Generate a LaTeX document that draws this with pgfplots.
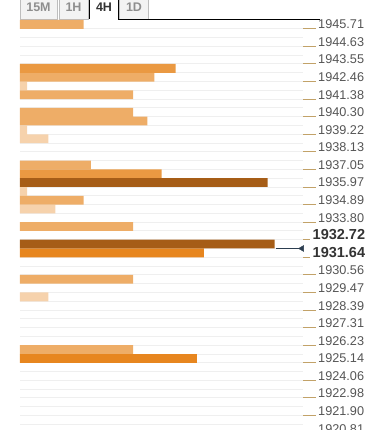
\documentclass[border=0pt]{standalone}
\usepackage{fontspec}
\setmainfont{Liberation Sans}
\usepackage{pgfplots}
\pgfplotsset{compat=1.18}
\definecolor{vlight}{HTML}{F6D2AC}
\definecolor{light}{HTML}{EEAD67}
\definecolor{medium}{HTML}{EA9942}
\definecolor{orange}{HTML}{E7861F}
\definecolor{brown}{HTML}{A65D17}
\definecolor{gridc}{HTML}{EFEFEF}
\definecolor{tickgold}{HTML}{C2A268}
\definecolor{labgrey}{HTML}{555555}
\definecolor{labdark}{HTML}{333333}
\definecolor{pricecol}{HTML}{2C3E50}
\definecolor{tabfill}{HTML}{F3F3F3}
\definecolor{tabline}{HTML}{BDBDBD}
\definecolor{tabtext}{HTML}{8E8E8E}
\begin{document}
\begin{tikzpicture}[x=1pt,y=1pt]
\useasboundingbox (0,0) rectangle (387,430);
\begin{scope}
\clip (0,0) rectangle (387,430);
% tabs
\draw[tabline, fill=tabfill] (20,411) rectangle (57,440);
\draw[tabline, fill=tabfill] (59,411) rectangle (88,440);
\draw[tabline, fill=tabfill] (119.5,411) rectangle (148,440);
\fill[white] (89.5,410.5) rectangle (118,440);
\draw[black, line width=0.9pt] (89.5,440) -- (89.5,411) ;
\draw[black, line width=0.9pt] (118,440) -- (118,411) -- (320,411);
\node[anchor=base, inner sep=0pt, text=tabtext, font=\bfseries\fontsize{12.5}{14}\selectfont] at (38.5,418.5) {15M};
\node[anchor=base, inner sep=0pt, text=tabtext, font=\bfseries\fontsize{12.5}{14}\selectfont] at (73.5,418.5) {1H};
\node[anchor=base, inner sep=0pt, text=labdark, font=\bfseries\fontsize{12.5}{14}\selectfont] at (104,418.5) {4H};
\node[anchor=base, inner sep=0pt, text=tabtext, font=\bfseries\fontsize{12.5}{14}\selectfont] at (134,418.5) {1D};
\begin{axis}[
  at={(20pt,410pt)}, anchor=north west,
  scale only axis, width=283pt, height=421.92pt,
  xmin=0, xmax=40, ymin=1920.2676, ymax=1946.25,
  clip=false,
  axis line style={draw=none},
  xtick=\empty,
  ytick pos=right, yticklabel pos=right,
  tick align=outside,
  major tick length=13pt,
  minor tick length=0pt,
  major tick style={draw=tickgold, line width=0.8pt},
  ytick={1945.71,1944.63,1943.55,1942.46,1941.38,1940.30,1939.22,1938.13,1937.05,1935.97,1934.89,1933.80,1930.56,1929.47,1928.39,1927.31,1926.23,1925.14,1924.06,1922.98,1921.90,1920.81},
  yticklabels={1945.71,1944.63,1943.55,1942.46,1941.38,1940.30,1939.22,1938.13,1937.05,1935.97,1934.89,1933.80,1930.56,1929.47,1928.39,1927.31,1926.23,1925.14,1924.06,1922.98,1921.90,1920.81},
  yticklabel style={font=\fontsize{12.7}{14}\selectfont, text=labgrey, anchor=base west, inner sep=0pt, xshift=2pt},
  extra y ticks={1932.72,1931.64},
  extra y tick labels={1932.72,1931.64},
  extra y tick style={major tick length=7pt, yticklabel style={font=\bfseries\fontsize{14.5}{16}\selectfont, text=labdark, xshift=0.5pt}},
  minor ytick={1945.7087,1945.1674,1944.6261,1944.0848,1943.5435,1943.0022,1942.4609,1941.9196,1941.3783,1940.8370,1940.2957,1939.7544,1939.2131,1938.6718,1938.1305,1937.5892,1937.0479,1936.5066,1935.9653,1935.4240,1934.8827,1934.3414,1933.8001,1933.2588,1932.7175,1932.1762,1931.6349,1931.0936,1930.5523,1930.0110,1929.4697,1928.9284,1928.3871,1927.8458,1927.3045,1926.7632,1926.2219,1925.6806,1925.1393,1924.5980,1924.0567,1923.5154,1922.9741,1922.4328,1921.8915,1921.3502,1920.8089},
  yminorgrids,
  minor grid style={draw=gridc, line width=1pt},
]
\addplot[xbar, fill=vlight, draw=none, bar width=0.5413, bar shift=0pt] coordinates {
  (1,1942.19) (1,1939.48) (4,1938.94) (1,1935.69) (5,1934.61) (4,1929.20)};
\addplot[xbar, fill=light, draw=none, bar width=0.5413, bar shift=0pt] coordinates {
  (9,1945.98) (19,1942.73) (16,1941.65) (16,1940.57) (18,1940.03) (10,1937.32) (9,1935.15) (16,1933.53) (16,1930.28) (16,1925.95)};
\addplot[xbar, fill=medium, draw=none, bar width=0.5413, bar shift=0pt] coordinates {
  (22,1943.27) (20,1936.78)};
\addplot[xbar, fill=orange, draw=none, bar width=0.5413, bar shift=0pt] coordinates {
  (26,1931.91) (25,1925.41)};
\addplot[xbar, fill=brown, draw=none, bar width=0.5413, bar shift=0pt] coordinates {
  (35,1936.24) (36,1932.45)};
\addplot[draw=pricecol, line width=1.2pt] coordinates {(36.2,1932.18) (39.7,1932.18)};
\addplot[only marks, mark=triangle*, mark size=3.4pt, mark options={rotate=90, fill=pricecol, draw=pricecol}] coordinates {(39.85,1932.18)};
\end{axis}
\end{scope}
\end{tikzpicture}
\end{document}
